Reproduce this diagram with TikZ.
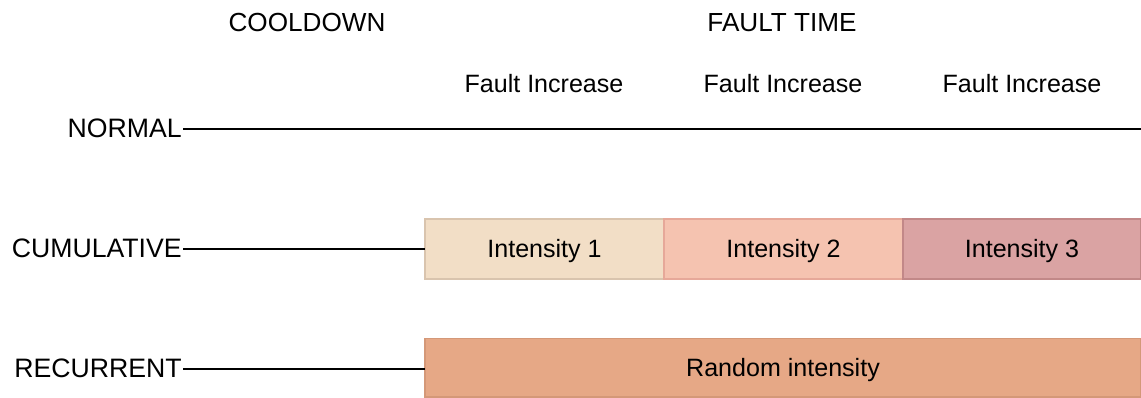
\documentclass[tikz,border=0pt]{standalone}
\usepackage{fontspec}
\setmainfont{Liberation Sans}
\definecolor{int1fill}{HTML}{F2DEC6}
\definecolor{int1line}{HTML}{D9C4AE}
\definecolor{int2fill}{HTML}{F5C3B0}
\definecolor{int2line}{HTML}{E6A899}
\definecolor{int3fill}{HTML}{DAA3A3}
\definecolor{int3line}{HTML}{C28888}
\definecolor{randfill}{HTML}{E6A886}
\definecolor{randline}{HTML}{D49878}
\begin{document}
\begin{tikzpicture}[x=0.75pt,y=-0.75pt,
  lbl/.style={font=\fontsize{18.8}{22}\selectfont, inner sep=0pt},
  head/.style={font=\fontsize{19.6}{23}\selectfont, inner sep=0pt},
  rowlbl/.style={font=\fontsize{20}{24}\selectfont, inner sep=0pt, anchor=east},
  track/.style={line width=1pt, black},
  seg/.style={line width=1pt, inner sep=0pt, font=\fontsize{18.8}{22}\selectfont}]
\useasboundingbox (0,0) rectangle (1141,397);

% column headings
\node[head] (cool) at (307,23) {COOLDOWN};
\node[head] (fault) at (782,23) {FAULT TIME};
\node[lbl] (inc1) at (544,84) {Fault Increase};
\node[lbl] (inc2) at (783,84) {Fault Increase};
\node[lbl] (inc3) at (1022,84) {Fault Increase};

% row labels
\node[rowlbl] (normal) at (182,128) {NORMAL};
\node[rowlbl] (cumul) at (182,248) {CUMULATIVE};
\node[rowlbl] (recur) at (182,368) {RECURRENT};

% cumulative intensity blocks
\draw[seg, draw=int1line, fill=int1fill] (425,219) rectangle (664,279);
\draw[seg, draw=int2line, fill=int2fill] (664,219) rectangle (903,279);
\draw[seg, draw=int3line, fill=int3fill] (903,219) rectangle (1141,279);
\node[seg] (i1) at (544.5,251) {Intensity 1};
\node[seg] (i2) at (783.5,251) {Intensity 2};
\node[seg] (i3) at (1022,251) {Intensity 3};

% recurrent block
\draw[seg, draw=randline, fill=randfill] (425,338.5) rectangle (1141,397);
\node[seg] (rnd) at (783,370.5) {Random intensity};

% timeline tracks
\coordinate (nend) at (1141,129);
\coordinate (cbox) at (425,249);
\coordinate (rbox) at (425,369);
\draw[track] (normal.east |- nend) ++(1,0) -- (nend);
\draw[track] (cumul.east |- cbox) ++(1,0) -- (cbox);
\draw[track] (recur.east |- rbox) ++(1,0) -- (rbox);
\end{tikzpicture}
\end{document}
